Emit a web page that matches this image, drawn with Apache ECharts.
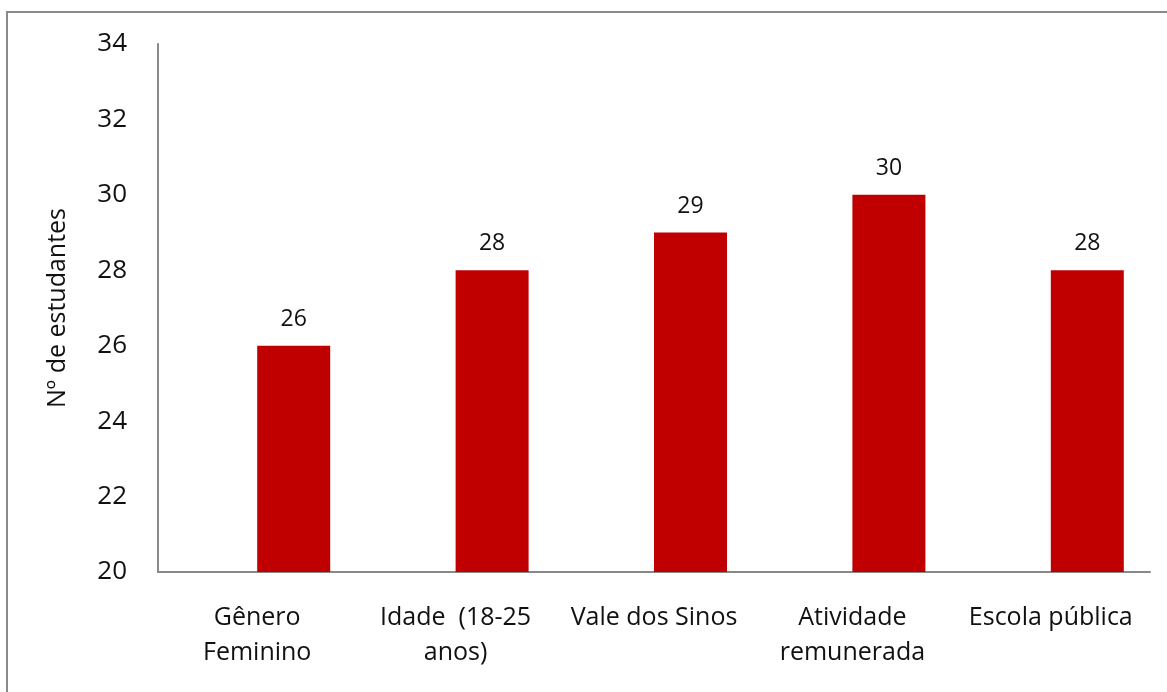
<!DOCTYPE html>
<html>
<head>
<meta charset="utf-8">
<script src="https://cdn.jsdelivr.net/npm/echarts@6/dist/echarts.min.js"></script>
<style>
html,body{margin:0;padding:0;background:#fff;}
.frame{position:absolute;left:6px;top:11px;width:1200px;height:720px;border-left:2px solid #8a8a8a;border-top:2px solid #8a8a8a;}
.chart{position:absolute;left:0;top:0;width:1167px;height:692px;}
</style>
</head>
<body>
<div class="frame"></div>
<div class="chart" id="chart"></div>
<script>
const categories = ['Gênero\nFeminino', 'Idade  (18-25\nanos)', 'Vale dos Sinos', 'Atividade\nremunerada', 'Escola pública'];
const values = [26, 28, 29, 30, 28];
// empty companion series: the visible bars sit in the right half of each slot
const emptySeries = [null, null, null, null, null];
const yTicks = { min: 20, max: 34, interval: 2 };

const chart = echarts.init(document.getElementById('chart'));
const font = '"Open Sans", "Noto Sans", sans-serif';
chart.setOption({
  animation: false,
  grid: { left: 158, top: 44, right: 17, bottom: 120, containLabel: false },
  xAxis: {
    type: 'category',
    data: categories,
    axisLine: { lineStyle: { color: '#898989', width: 2 } },
    axisTick: { show: false },
    axisLabel: { color: '#111', fontSize: 25, fontFamily: font, margin: 28, lineHeight: 35, interval: 0 }
  },
  yAxis: {
    type: 'value',
    min: yTicks.min,
    max: yTicks.max,
    interval: yTicks.interval,
    name: 'Nº de estudantes',
    nameLocation: 'middle',
    nameGap: 88,
    nameTextStyle: { color: '#111', fontSize: 25, fontFamily: font },
    axisLine: { show: true, lineStyle: { color: '#898989', width: 2 } },
    axisTick: { show: false },
    splitLine: { show: false },
    axisLabel: { color: '#111', fontSize: 26, fontFamily: font, margin: 31 }
  },
  series: [
    { type: 'bar', data: emptySeries, barWidth: 73, barGap: '0%', itemStyle: { color: '#4f81bd' } },
    {
      type: 'bar',
      data: values,
      barWidth: 73,
      barGap: '0%',
      itemStyle: { color: '#c00000' },
      label: { show: true, position: 'top', distance: 15, color: '#111', fontSize: 23, fontFamily: font }
    }
  ]
});
</script>
</body>
</html>
